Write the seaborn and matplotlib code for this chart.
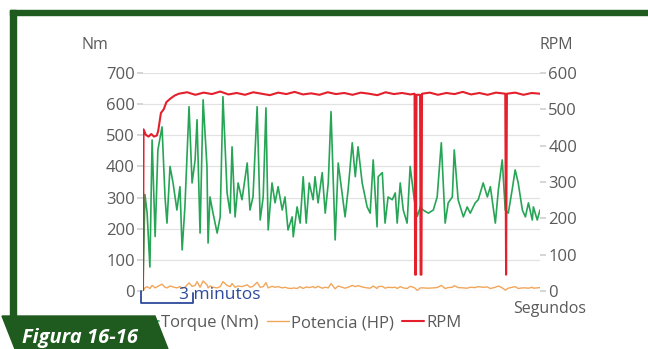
import numpy as np
import pandas as pd
import matplotlib
matplotlib.use("Agg")
import matplotlib.pyplot as plt
from matplotlib.patches import Polygon, Rectangle
import seaborn as sns

# seconds since start
t_torque = [0, 7, 15, 25, 33, 44, 54, 69, 80, 87,
            98, 109, 123, 134, 142, 152, 167, 178, 189, 196,
            207, 218, 232, 236, 243, 254, 269, 280, 290, 305,
            316, 323, 334, 345, 359, 378, 388, 399, 414, 425,
            436, 446, 454, 468, 479, 490, 505, 515, 526, 541,
            545, 559, 570, 581, 592, 603, 617, 624, 635, 650,
            661, 672, 682, 697, 708, 722, 733, 744, 759, 770,
            780, 795, 813, 824, 835, 849, 853, 868, 878, 889,
            904, 915, 922, 933, 944, 958, 969, 984, 995, 1006,
            1016, 1035, 1053, 1067, 1082, 1096, 1107, 1122, 1129, 1143,
            1162, 1176, 1187, 1205, 1216, 1234, 1249, 1260, 1278, 1289,
            1303, 1314, 1325, 1339, 1350, 1361, 1376, 1387, 1398, 1412,
            1416, 1430, 1440]
torque = [20, 310, 250, 77, 485, 175, 453, 527, 300, 218,
          400, 347, 260, 335, 132, 270, 592, 347, 421, 550,
          186, 614, 400, 154, 302, 250, 186, 238, 624, 315,
          250, 463, 238, 347, 293, 411, 260, 302, 592, 228,
          302, 588, 196, 347, 283, 335, 260, 302, 196, 238,
          174, 270, 218, 367, 218, 347, 293, 367, 283, 380,
          250, 347, 576, 164, 411, 315, 238, 325, 476, 367,
          463, 347, 270, 250, 421, 206, 367, 380, 218, 302,
          293, 315, 218, 347, 260, 218, 400, 293, 240, 270,
          260, 250, 260, 302, 476, 218, 283, 302, 453, 293,
          238, 270, 250, 283, 293, 347, 302, 335, 218, 325,
          421, 260, 250, 325, 389, 347, 260, 238, 283, 228,
          270, 228, 260]
potencia = [0, 10, 14, 8, 18, 10, 15, 22, 12, 10,
            16, 13, 10, 14, 8, 12, 26, 15, 18, 30,
            12, 32, 20, 10, 16, 12, 10, 14, 30, 18,
            14, 24, 12, 16, 14, 20, 12, 15, 28, 12,
            14, 27, 10, 15, 12, 14, 10, 12, 9, 8,
            10, 8, 14, 8, 13, 11, 14, 10, 15, 9,
            12, 10, 24, 7, 16, 12, 9, 12, 18, 14,
            17, 13, 10, 9, 16, 8, 14, 15, 9, 12,
            11, 12, 8, 14, 10, 8, 15, 11, 2, 10,
            10, 9, 10, 11, 18, 8, 11, 12, 17, 11,
            10, 9, 12, 11, 14, 12, 13, 8, 12, 16,
            10, 3, 9, 12, 14, 8, 10, 10, 9, 12,
            9, 10, 11]

t_rpm = [0, 2, 10, 20, 30, 40, 50, 55, 65, 75, 85, 100, 115, 130,
         160, 190, 220, 250, 280, 310, 340, 370, 400, 430, 460, 490,
         520, 550, 580, 610, 640, 670, 700, 730, 760, 790, 820, 850,
         880, 910, 940, 970, 985, 987, 990, 992, 1005, 1007, 1010, 1012,
         1040, 1070, 1100, 1130, 1160, 1190, 1220, 1250, 1280, 1314,
         1317, 1320, 1350, 1380, 1410, 1440]
rpm = [0, 445, 430, 425, 432, 425, 428, 440, 490, 500, 520, 530, 538, 543,
       547, 540, 546, 542, 549, 541, 545, 540, 547, 543, 539, 546,
       542, 548, 541, 544, 540, 547, 542, 545, 540, 546, 543, 539,
       547, 542, 545, 541, 543, 45, 45, 540, 540, 45, 45, 543,
       546, 540, 545, 542, 548, 541, 545, 540, 546, 543,
       45, 543, 546, 540, 545, 543]

df_t = pd.DataFrame({"t": t_torque, "Torque (Nm)": torque, "Potencia (HP)": potencia})
df_r = pd.DataFrame({"t": t_rpm, "RPM": rpm})

sns.set_theme(style="white")
plt.rcParams["font.family"] = ["Open Sans", "DejaVu Sans"]

green = "#27a556"
orange = "#f2a65a"
red = "#e3202c"
gray = "#5a5a5a"
dark = "#1f5a1f"
blue = "#2d4a9c"

fig = plt.figure(figsize=(6.48, 3.49), dpi=100)
ax = fig.add_axes([143 / 648, 1 - 291 / 349, 397 / 648, 218 / 349])
ax2 = ax.twinx()

sns.lineplot(data=df_t, x="t", y="Torque (Nm)", ax=ax, color=green, lw=1.2, label="Torque (Nm)", legend=False)
sns.lineplot(data=df_t, x="t", y="Potencia (HP)", ax=ax, color=orange, lw=1.0, label="Potencia (HP)", legend=False)
sns.lineplot(data=df_r, x="t", y="RPM", ax=ax2, color=red, lw=1.5, label="RPM", legend=False)

ax.set_xlim(0, 1440)
ax.set_ylim(0, 700)
ax2.set_ylim(0, 600)
ax.set_yticks(range(0, 701, 100))
ax2.set_yticks(range(0, 601, 100))
ax.set_xticks([])
ax.set_xlabel("")
ax.set_ylabel("")
ax2.set_ylabel("")
ax.yaxis.grid(True, color="#e2e2e2", lw=0.9)
ax.set_axisbelow(True)
for a in (ax, ax2):
    for s in a.spines.values():
        s.set_visible(False)
    a.tick_params(axis="y", labelsize=12, labelcolor=gray, length=4, color="#d0d0d0", pad=2)
ax2.set_zorder(ax.get_zorder() + 1)
ax2.patch.set_visible(False)

ax.text(-0.12, 1.13, "Nm", transform=ax.transAxes, ha="center", va="center", fontsize=11.5, color=gray)
ax.text(1.04, 1.13, "RPM", transform=ax.transAxes, ha="center", va="center", fontsize=11.5, color=gray)
ax.text(1.117, -0.045, "Segundos", transform=ax.transAxes, ha="right", va="top", fontsize=11.5, color=gray)

# 3 minute bracket
ax.plot([-8, -8, 180, 180], [0, -38, -38, -8], color=blue, lw=1.3, clip_on=False)
ax.text(132, -12, "3 minutos", color=blue, fontsize=12.5, ha="left", va="center")

h1, l1 = ax.get_legend_handles_labels()
h2, l2 = ax2.get_legend_handles_labels()
fig.legend(h1 + h2, l1 + l2, loc="center", bbox_to_anchor=(0.462, 1 - 323 / 349), ncol=3,
           frameon=False, fontsize=12, labelcolor=gray, handlelength=1.3,
           handletextpad=0.15, columnspacing=0.5)

# green frame and caption tab
fig.patches.append(Rectangle((10 / 648, 1 - 15 / 349), 638 / 648, 5 / 349,
                             transform=fig.transFigure, color=dark, zorder=10))
fig.patches.append(Rectangle((10 / 648, 1 - 316 / 349), 6 / 648, 306 / 349,
                             transform=fig.transFigure, color=dark, zorder=10))
fig.patches.append(Polygon([(2 / 648, 1 - 316 / 349), (155 / 648, 1 - 316 / 349),
                            (168 / 648, 0), (15 / 648, 0)],
                           closed=True, transform=fig.transFigure, color=dark, zorder=10))
fig.text(22 / 648, 1 - 343 / 349, "Figura 16-16", color="white", fontsize=14.5,
         fontweight="bold", fontstyle="italic", ha="left", va="baseline", zorder=11)

fig.savefig("out.png", dpi=100)
